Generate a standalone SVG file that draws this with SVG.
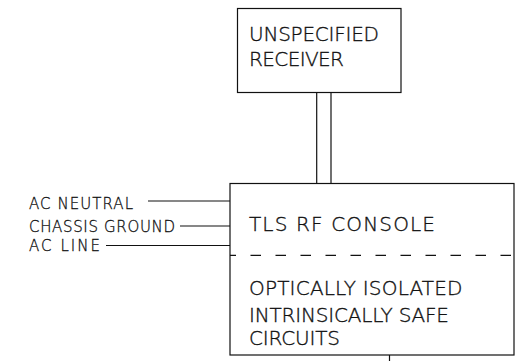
<svg xmlns="http://www.w3.org/2000/svg" width="523" height="361" viewBox="0 0 523 361">
<style>
.ln{stroke:#111;stroke-width:1.2;fill:none}
.big{font-family:"DejaVu Sans","Liberation Sans",sans-serif;font-weight:200;font-size:20px;fill:#111;stroke:#111;stroke-width:0.35}
.sm{font-family:"DejaVu Sans","Liberation Sans",sans-serif;font-weight:200;font-size:15px;fill:#111;stroke:#111;stroke-width:0.3}
</style>
<rect width="523" height="361" fill="#fff"/>
<g id="receiver">
<rect class="ln" x="237.5" y="8.5" width="163.5" height="84"/>
<text class="big" x="249" y="40.7" textLength="130" lengthAdjust="spacing">UNSPECIFIED</text>
<text class="big" x="249" y="65.7" textLength="95" lengthAdjust="spacing">RECEIVER</text>
</g>
<g id="console">
<rect class="ln" x="230" y="183.5" width="284" height="171.5"/>
<line class="ln" x1="230" y1="255.3" x2="514" y2="255.3" stroke-dasharray="10.5 14.5" stroke-dashoffset="4.5"/>
<text class="big" x="249" y="230.7" textLength="186" lengthAdjust="spacing">TLS RF CONSOLE</text>
<text class="big" x="249" y="295" textLength="213.5" lengthAdjust="spacing">OPTICALLY ISOLATED</text>
<text class="big" x="249" y="321.7" textLength="200" lengthAdjust="spacing">INTRINSICALLY SAFE</text>
<text class="big" x="249" y="345" textLength="91" lengthAdjust="spacing">CIRCUITS</text>
</g>
<g id="labels">
<text class="sm" x="29" y="209" textLength="104" lengthAdjust="spacing">AC NEUTRAL</text>
<text class="sm" x="29" y="231.7" textLength="146" lengthAdjust="spacing">CHASSIS GROUND</text>
<text class="sm" x="29" y="251" textLength="71" lengthAdjust="spacing">AC LINE</text>
</g>
<g id="connectors">
<line class="ln" x1="316.7" y1="92.5" x2="316.7" y2="183.5"/>
<line class="ln" x1="331" y1="92.5" x2="331" y2="183.5"/>
<line class="ln" x1="148" y1="201" x2="230" y2="201"/>
<line class="ln" x1="180" y1="226" x2="230" y2="226"/>
<line class="ln" x1="106" y1="245.5" x2="230" y2="245.5"/>
<line class="ln" x1="389.5" y1="355" x2="389.5" y2="361"/>
</g>
</svg>
